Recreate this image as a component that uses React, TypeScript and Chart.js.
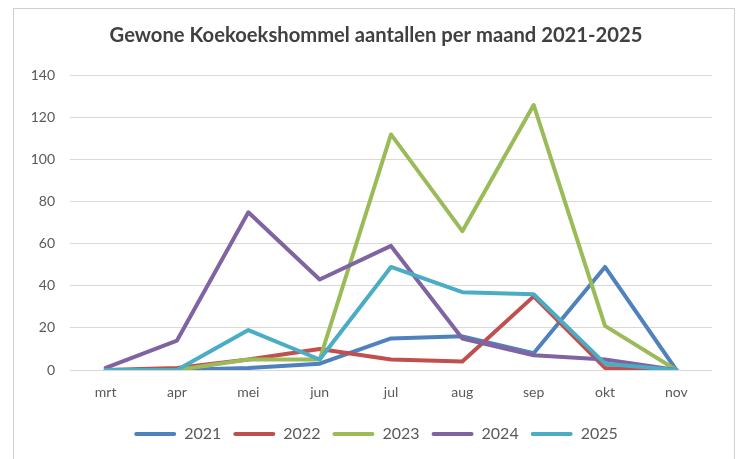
import React, { useEffect, useRef } from "react";
import { Chart, registerables } from "chart.js";

Chart.register(...registerables);

const TITLE = "Gewone Koekoekshommel aantallen per maand 2021-2025";
const months = ["mrt", "apr", "mei", "jun", "jul", "aug", "sep", "okt", "nov"];
const seriesNames = ["2021", "2022", "2023", "2024", "2025"];
const y2021 = [0, 0, 1, 3, 15, 16, 8, 49, 0];
const y2022 = [0, 1, 5, 10, 5, 4, 35, 1, 0];
const y2023 = [0, 0, 5, 5, 112, 66, 126, 21, 0];
const y2024 = [1, 14, 75, 43, 59, 15, 7, 5, 0];
const y2025 = [0, 0, 19, 5, 49, 37, 36, 3, 0];
const colors = ["#4F81BD", "#C0504D", "#9BBB59", "#8064A2", "#4BACC6"];

const FONT = "Lato, 'Open Sans', sans-serif";

// shifts the centred title and legend to the centre of the framed chart
const centreShift = {
  id: "centreShift",
  afterLayout(chart: any) {
    if (chart.titleBlock) chart.titleBlock.left += 40;
    if (chart.legend) chart.legend.left += 40;
  },
};

export default function App() {
  const ref = useRef<HTMLCanvasElement | null>(null);

  useEffect(() => {
    if (!ref.current) return;
    const values = [y2021, y2022, y2023, y2024, y2025];
    const chart = new Chart(ref.current, {
      type: "line",
      data: {
        labels: months,
        datasets: values.map((v, i) => ({
          label: seriesNames[i],
          data: v,
          borderColor: colors[i],
          backgroundColor: colors[i],
          borderWidth: 4,
          pointRadius: 0,
          tension: 0,
          borderJoinStyle: "round" as const,
          borderCapStyle: "round" as const,
          order: values.length - 1 - i,
        })),
      },
      plugins: [centreShift],
      options: {
        responsive: false,
        animation: false,
        layout: { padding: { left: 0, right: 31, top: 0, bottom: 7 } },
        plugins: {
          tooltip: { enabled: false },
          title: {
            display: true,
            text: TITLE,
            color: "#404040",
            font: { family: FONT, size: 20.2, weight: "bold", lineHeight: 1.2 },
            padding: { top: 23, bottom: 28.3 },
          },
          legend: {
            position: "bottom",
            labels: {
              color: "#595959",
              font: { family: FONT, size: 16 },
              boxWidth: 42,
              boxHeight: 4,
              padding: 12,
              useBorderRadius: true,
              borderRadius: 2,
              generateLabels: (c: any) =>
                c.data.datasets.map((d: any, i: number) => ({
                  text: d.label,
                  fillStyle: d.borderColor,
                  strokeStyle: d.borderColor,
                  lineWidth: 0,
                  hidden: false,
                  datasetIndex: i,
                  fontColor: "#595959",
                  borderRadius: 2,
                })),
            },
          },
        },
        scales: {
          x: {
            offset: true,
            grid: { display: false, drawTicks: false },
            border: { display: false },
            ticks: {
              color: "#595959",
              font: { family: FONT, size: 14 },
              padding: 14,
              maxRotation: 0,
            },
            afterFit: (s: any) => {
              s.height = 44;
            },
          },
          y: {
            min: 0,
            max: 140,
            grid: { color: "#D9D9D9", lineWidth: 1, drawTicks: false },
            border: { display: false },
            ticks: {
              stepSize: 20,
              color: "#595959",
              font: { family: FONT, size: 14 },
              padding: 15,
            },
            afterFit: (s: any) => {
              s.width = 70;
            },
          },
        },
      },
    });
    return () => chart.destroy();
  }, []);

  return (
    <div style={{ position: "fixed", left: 0, top: 0, width: 743, height: 459, background: "#fff", overflow: "hidden" }}>
      <div
        style={{
          position: "absolute",
          left: 13,
          top: 8,
          width: 720,
          height: 470,
          border: "1px solid #D0D0D0",
        }}
      />
      <canvas
        ref={ref}
        width={743}
        height={459}
        style={{ position: "absolute", left: 0, top: 0, width: 743, height: 459 }}
      />
    </div>
  );
}
